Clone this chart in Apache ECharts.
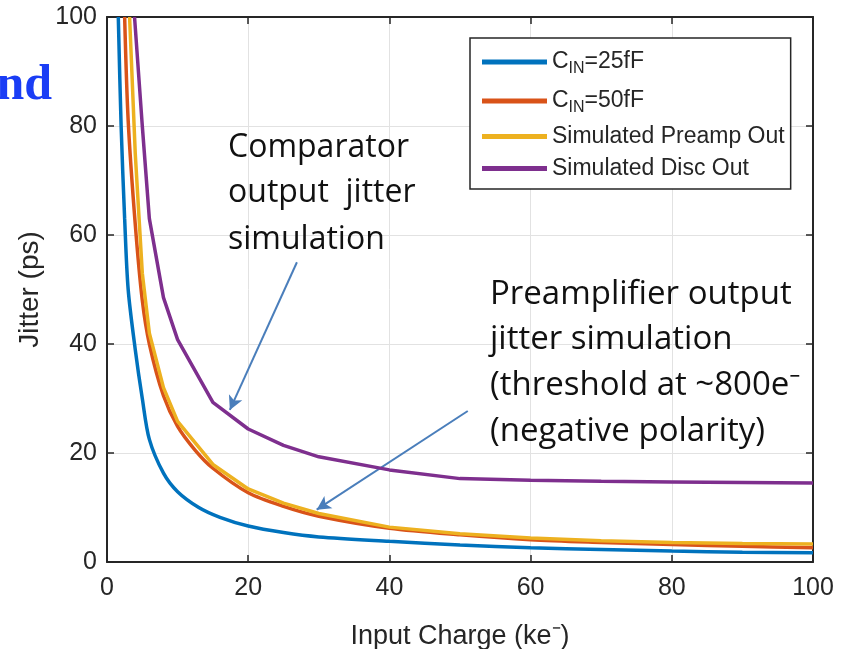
<!DOCTYPE html>
<html>
<head>
<meta charset="utf-8">
<script src="https://cdn.jsdelivr.net/npm/echarts@6/dist/echarts.min.js"></script>
<style>
  html, body { margin: 0; padding: 0; background: #fff; }
  #chart { width: 846px; height: 649px; }
</style>
</head>
<body>
<div id="chart"></div>
<script>
// Jitter versus input charge, four simulated curves
const xTicks = [0, 20, 40, 60, 80, 100];
const yTicks = [0, 20, 40, 60, 80, 100];

const cin25X = [1.6, 2, 2.5, 3, 4, 5, 6, 8, 10, 13, 16, 20, 25, 30, 40, 50, 60, 70, 80, 90, 100];
const cin25Y = [100, 80, 63, 50, 39, 30, 22.5, 16.3, 12.9, 10.0, 8.2, 6.6, 5.4, 4.6, 3.8, 3.1, 2.6, 2.3, 2.0, 1.8, 1.7];

const cin50X = [2.5, 3, 4, 5, 6, 8, 10, 12.5, 15, 20, 25, 30, 40, 50, 60, 70, 80, 90, 100];
const cin50Y = [100, 81, 62, 48, 40, 30.5, 24.9, 20.5, 17.2, 12.7, 10.2, 8.4, 6.2, 5.0, 4.1, 3.6, 3.2, 2.9, 2.6];

const preampX = [3.2, 4, 5, 6, 8, 10, 15, 20, 25, 30, 40, 50, 60, 70, 80, 90, 100];
const preampY = [100, 75, 53, 42, 32, 25.8, 17.9, 13.4, 10.8, 8.9, 6.4, 5.2, 4.4, 3.9, 3.6, 3.4, 3.3];

const discX = [3.9, 5, 6, 8, 10, 15, 20, 25, 30, 40, 50, 60, 70, 80, 90, 100];
const discY = [100, 80, 63, 48.5, 40.8, 29.3, 24.4, 21.4, 19.3, 16.9, 15.3, 15.0, 14.8, 14.7, 14.6, 14.5];

const seriesNames = ['CIN=25fF', 'CIN=50fF', 'Simulated Preamp Out', 'Simulated Disc Out'];
const seriesColors = ['#0072BD', '#D95319', '#EDB120', '#7E2F8E'];

// Callout arrows, in data units: [start x, start y, end x, end y]
const discArrow = [26.9, 55.0, 17.4, 27.9];
const preampArrow = [51.1, 27.7, 29.7, 9.6];

const pairs = (xs, ys) => xs.map((x, i) => [x, ys[i]]);

const axisColor = '#262626';
const labelFont = 'Liberation Sans, Arial, sans-serif';
const noteFont = 'Open Sans, Noto Sans, sans-serif';

const chart = echarts.init(document.getElementById('chart'), null, { renderer: 'canvas' });

const baseX = {
  type: 'value', min: 0, max: 100, interval: 20,
  axisLine: { show: true, onZero: false, lineStyle: { color: axisColor, width: 2 } },
  axisTick: { show: true, inside: true, length: 7, lineStyle: { color: axisColor, width: 1.5 } },
  splitLine: { show: false }
};
const baseY = {
  type: 'value', min: 0, max: 100, interval: 20,
  axisLine: { show: true, onZero: false, lineStyle: { color: axisColor, width: 2 } },
  axisTick: { show: true, inside: true, length: 7, lineStyle: { color: axisColor, width: 1.5 } },
  splitLine: { show: false }
};

function lineSeries(idx, xs, ys, smooth) {
  return {
    name: seriesNames[idx],
    type: 'line',
    data: pairs(xs, ys),
    showSymbol: false,
    smooth: smooth,
    clip: true,
    color: seriesColors[idx],
    lineStyle: { width: 3.5, color: seriesColors[idx] },
    z: 3 + idx
  };
}

const arrowStyle = { color: '#4A7EBB', width: 2, type: 'solid' };

const disc = lineSeries(3, discX, discY, false);
disc.markLine = {
  silent: true,
  symbol: ['none', 'arrow'],
  symbolSize: [11, 14],
  label: { show: false },
  lineStyle: arrowStyle,
  animation: false,
  data: [
    [{ coord: [discArrow[0], discArrow[1]] }, { coord: [discArrow[2], discArrow[3]] }],
    [{ coord: [preampArrow[0], preampArrow[1]] }, { coord: [preampArrow[2], preampArrow[3]] }]
  ]
};

const option = {
  animation: false,
  backgroundColor: '#ffffff',
  grid: { left: 107, right: 33, top: 17, bottom: 87, containLabel: false, outerBoundsMode: 'none' },
  xAxis: [
    Object.assign({}, baseX, {
      position: 'bottom',
      name: 'Input Charge (ke⁻)',
      nameLocation: 'middle',
      nameGap: 61,
      nameTextStyle: { fontFamily: labelFont, fontSize: 27, color: axisColor },
      axisLabel: { show: true, margin: 14, fontFamily: labelFont, fontSize: 25, color: axisColor },
      splitLine: { show: true, lineStyle: { color: '#e2e2e2', width: 1 } }
    }),
    Object.assign({}, baseX, { position: 'top', axisLabel: { show: false } })
  ],
  yAxis: [
    Object.assign({}, baseY, {
      position: 'left',
      name: 'Jitter (ps)',
      nameLocation: 'middle',
      nameGap: 62,
      nameTextStyle: { fontFamily: labelFont, fontSize: 28, color: axisColor },
      axisLabel: { show: true, margin: 10, fontFamily: labelFont, fontSize: 25, color: axisColor },
      splitLine: { show: true, lineStyle: { color: '#e2e2e2', width: 1 } }
    }),
    Object.assign({}, baseY, { position: 'right', axisLabel: { show: false } })
  ],
  legend: {
    show: true,
    orient: 'vertical',
    left: 470,
    top: 38,
    padding: [9, 6, 9, 12],
    itemGap: 9,
    itemWidth: 65,
    itemHeight: 5,
    icon: 'rect',
    backgroundColor: '#ffffff',
    borderColor: axisColor,
    borderWidth: 1.5,
    data: seriesNames,
    formatter: function (name) {
      if (name.indexOf('CIN') === 0) {
        return '{n|C}{s|IN}{n|' + name.slice(3) + '}';
      }
      return '{n|' + name + '}';
    },
    textStyle: {
      fontFamily: labelFont,
      fontSize: 23,
      color: axisColor,
      rich: {
        n: { fontFamily: labelFont, fontSize: 23, color: axisColor, lineHeight: 25 },
        s: { fontFamily: labelFont, fontSize: 16, color: axisColor, lineHeight: 25, padding: [14, 0, 0, 0] }
      }
    }
  },
  graphic: [
    { type: 'text', x: 52, y: 86, z: 100, style: { text: 'nd', align: 'right', verticalAlign: 'middle', font: 'bold 50px "Liberation Serif", serif', fill: '#1a3df5' } },
    { type: 'text', x: 228, y: 148, z: 100, style: { text: 'Comparator', verticalAlign: 'middle', font: '32px ' + noteFont, fill: '#111' } },
    { type: 'text', x: 228, y: 193, z: 100, style: { text: 'output  jitter', verticalAlign: 'middle', font: '32px ' + noteFont, fill: '#111' } },
    { type: 'text', x: 228, y: 240, z: 100, style: { text: 'simulation', verticalAlign: 'middle', font: '32px ' + noteFont, fill: '#111' } },
    { type: 'text', x: 490, y: 295, z: 100, style: { text: 'Preamplifier output', verticalAlign: 'middle', font: '33px ' + noteFont, fill: '#111' } },
    { type: 'text', x: 490, y: 340, z: 100, style: { text: 'jitter simulation', verticalAlign: 'middle', font: '33px ' + noteFont, fill: '#111' } },
    { type: 'text', x: 490, y: 386, z: 100, style: { text: '(threshold at ~800e⁻', verticalAlign: 'middle', font: '33px ' + noteFont, fill: '#111' } },
    { type: 'text', x: 490, y: 432, z: 100, style: { text: '(negative polarity)', verticalAlign: 'middle', font: '33px ' + noteFont, fill: '#111' } }
  ],
  series: [
    lineSeries(0, cin25X, cin25Y, 0.3),
    lineSeries(1, cin50X, cin50Y, 0.3),
    lineSeries(2, preampX, preampY, false),
    disc
  ]
};

chart.setOption(option);
</script>
</body>
</html>
